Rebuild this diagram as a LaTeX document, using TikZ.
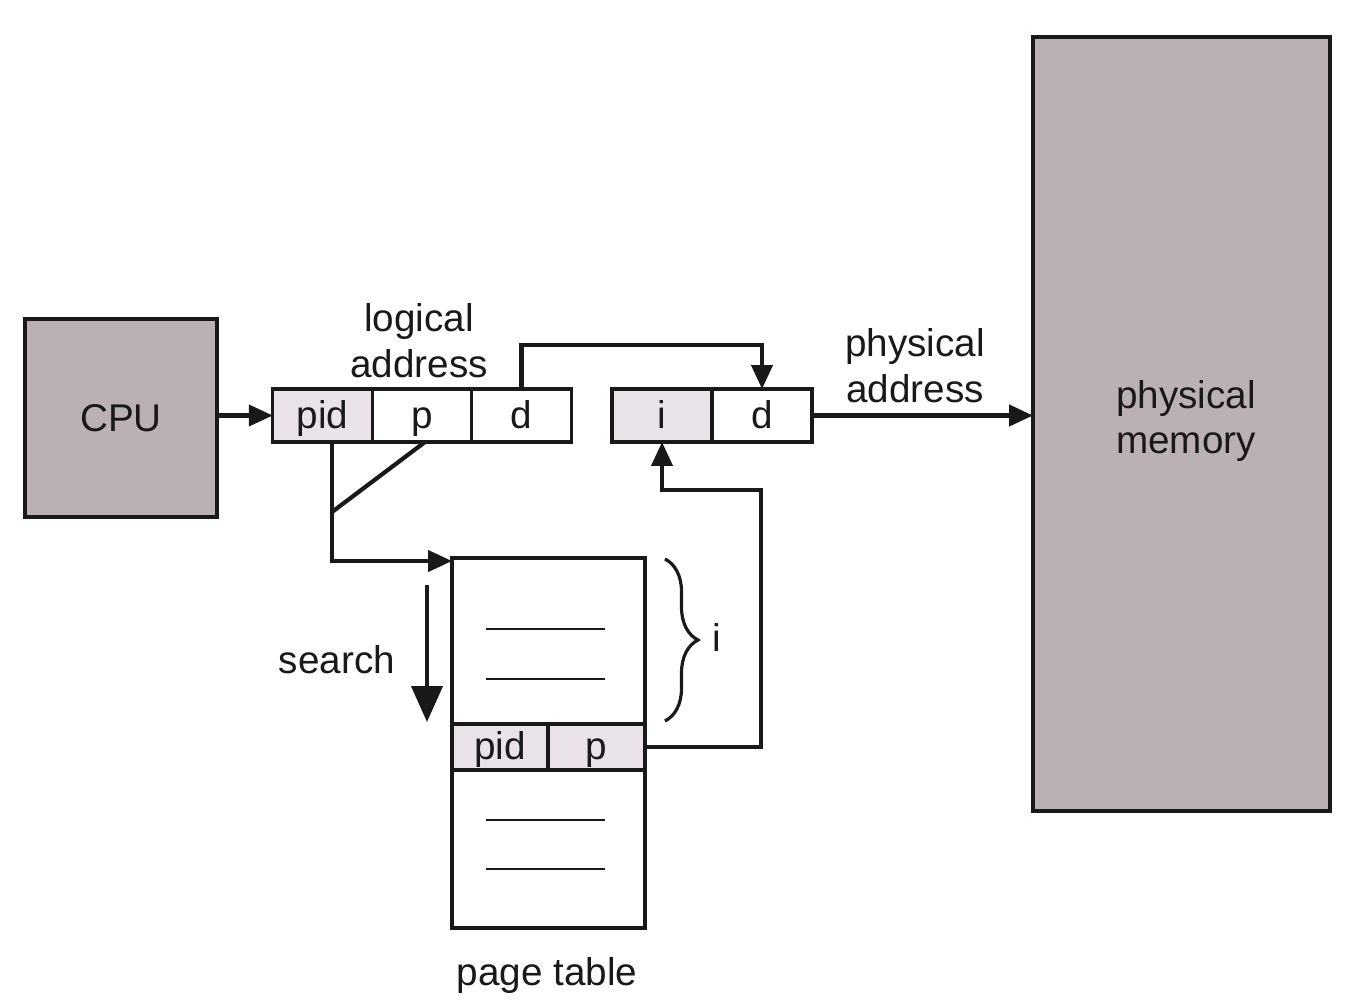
\documentclass[tikz,border=0pt]{standalone}
\usepackage{fontspec}
\setmainfont{Liberation Sans}
\usetikzlibrary{arrows.meta,decorations.pathreplacing}
\definecolor{boxgray}{RGB}{186,176,182}
\definecolor{cellfill}{RGB}{233,227,233}
\definecolor{ink}{RGB}{25,25,25}
\tikzset{
  lbl/.style={font=\fontsize{22}{26}\selectfont, text=ink, align=center, inner sep=0pt},
  bigbox/.style={draw=ink, line width=1.9pt, fill=boxgray, outer sep=0pt, font=\fontsize{22}{26}\selectfont, text=ink, align=center},
  cell/.style={draw=ink, line width=1.8pt, outer sep=0pt, minimum height=1.06cm, font=\fontsize{22}{26}\selectfont, text=ink, inner sep=0pt, text height=0.6cm, text depth=0.1cm},
  conn/.style={draw=ink, line width=2.4pt},
  arr/.style={conn, -{Triangle[length=0.48cm,width=0.42cm]}},
  bigarr/.style={conn, -{Triangle[length=0.72cm,width=0.62cm]}},
  thin/.style={draw=ink, line width=1.5pt}
}
\begin{document}
\begin{tikzpicture}[x=0.02cm,y=-0.02cm]
\useasboundingbox (0,0) rectangle (1365,1000);
% CPU
\node[bigbox, minimum width=3.84cm, minimum height=3.96cm] (cpu) at (121,418) {CPU};
% physical memory
\node[bigbox, minimum width=5.94cm, minimum height=15.48cm] (mem) at (1181.5,424) {};
\node[lbl] (ml) at (1186,421) {physical\\memory};
% logical address
\node[cell, fill=cellfill, minimum width=1.99cm] (pid) at (322.5,415.5) {pid};
\node[cell, minimum width=1.99cm] (p) at (422,415.5) {p};
\node[cell, minimum width=1.99cm] (d1) at (521.5,415.5) {d};
\node[lbl] (la) at (419,341) {logical\\address};
% physical address
\node[cell, fill=cellfill, minimum width=2.0cm] (i) at (662,415.5) {i};
\node[cell, minimum width=2.0cm] (d2) at (762,415.5) {d};
\node[lbl] (pa) at (915,366) {physical\\address};
% page table
\node[draw=ink, line width=1.9pt, outer sep=0pt, minimum width=3.86cm, minimum height=7.4cm] (pt) at (548.5,743) {};
\node[cell, fill=cellfill, minimum width=1.92cm, minimum height=0.92cm] (ppid) at (500,747) {pid};
\node[cell, fill=cellfill, minimum width=1.94cm, minimum height=0.92cm] (pp) at (596.5,747) {p};
\node[lbl] (ptl) at (547,975) {page table};
\draw[thin] (486,629) -- (605,629);
\draw[thin] (486,679) -- (605,679);
\draw[thin] (486,820) -- (605,820);
\draw[thin] (486,869) -- (605,869);
% brace
\draw[draw=ink, line width=1.8pt, decorate, decoration={brace, amplitude=0.66cm}] (665,559) -- (665,721);
\node[lbl] (il) at (717,637) {i};
% search
\coordinate (s1) at (427,585);
\coordinate (s2) at (427,722);
\draw[bigarr] (s1) -- (s2);
\node[lbl] (sl) at (337,660) {search};
% connectors
\draw[arr] (cpu.east |- pid.west) -- (pid.west);
\draw[arr] (d1.north) -- ++(0,-44) -| (d2.north);
\draw[arr] (d2.east) -- (d2.east -| mem.west);
\coordinate (j) at (332,512);
\draw[arr] ([xshift=0.19cm]pid.south) |- ([yshift=-0.06cm]pt.north west);
\draw[conn] ([xshift=0.06cm]p.south) -- (j);
\coordinate (r) at (761,490);
\draw[arr] (pp.east) -| (r) -| (i.south);
\end{tikzpicture}
\end{document}
